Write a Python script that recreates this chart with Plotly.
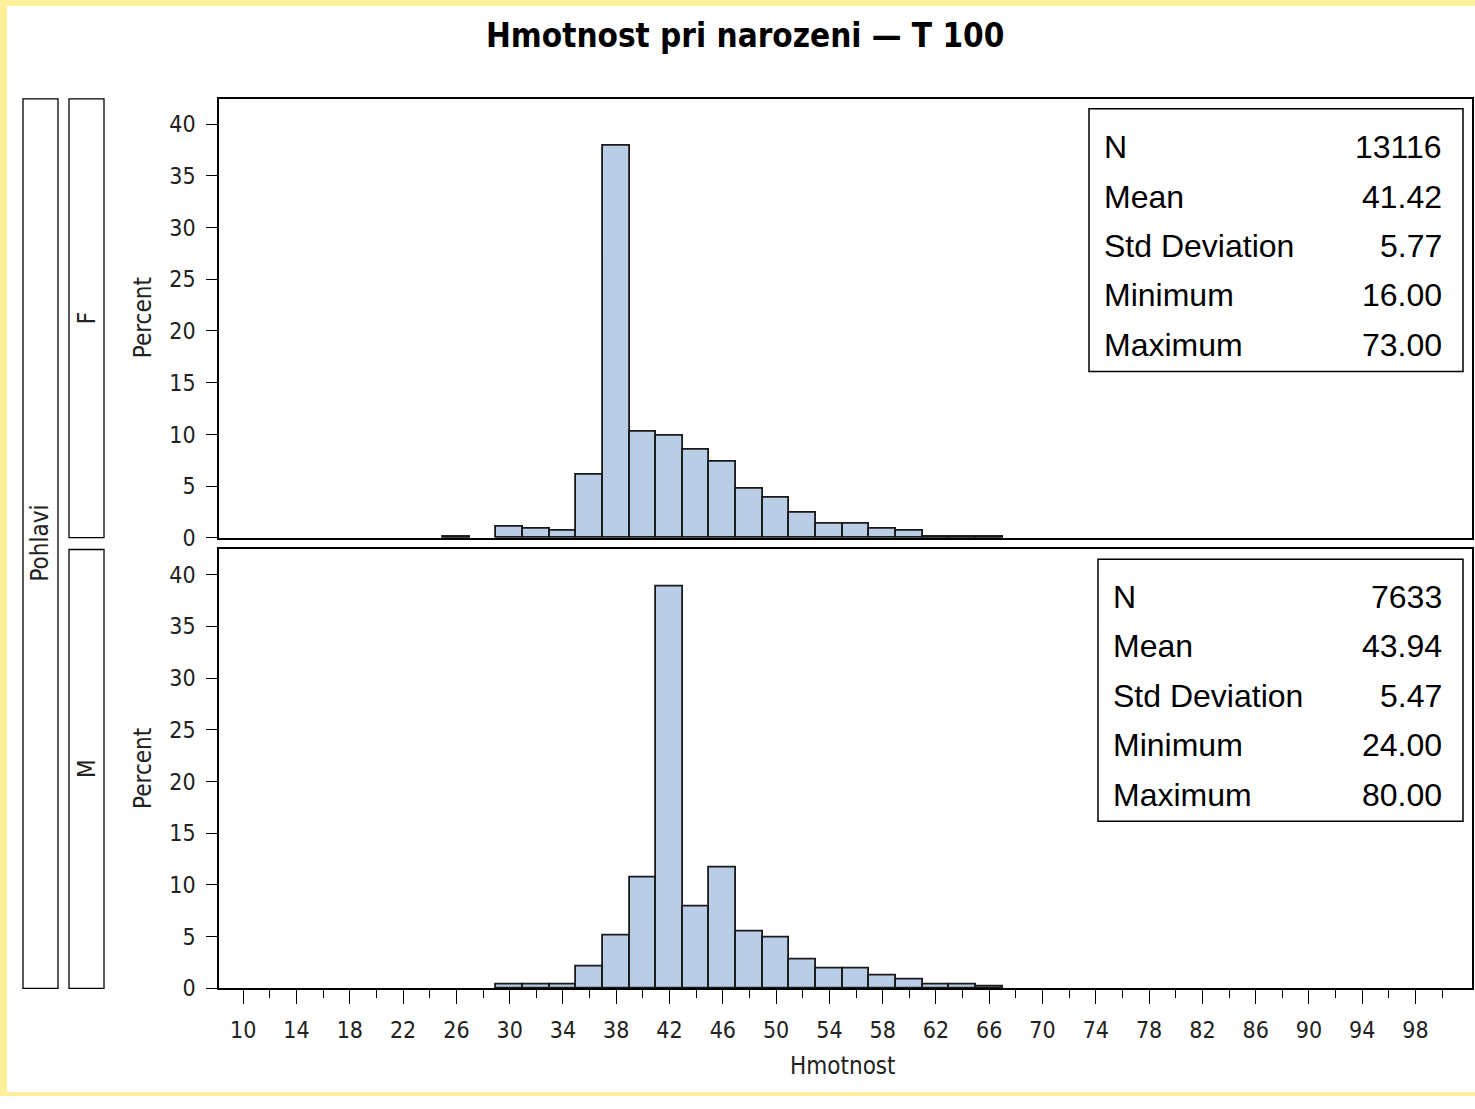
import plotly.graph_objects as go

# ---------------- data ----------------
f_centers = [26, 30, 32, 34, 36, 38, 40, 42, 44, 46, 48, 50, 52, 54, 56, 58, 60, 62, 64, 66]
f_percent = [0.15, 1.05, 0.86, 0.67, 6.14, 37.9, 10.25, 9.87, 8.53, 7.38, 4.74, 3.85, 2.45,
             1.40, 1.40, 0.86, 0.67, 0.10, 0.10, 0.10]

m_centers = [30, 32, 34, 36, 38, 40, 42, 44, 46, 48, 50, 52, 54, 56, 58, 60, 62, 64, 66]
m_percent = [0.32, 0.32, 0.32, 2.1, 5.1, 10.7, 38.9, 7.9, 11.65, 5.48, 4.9, 2.8, 1.9,
             1.9, 1.2, 0.83, 0.32, 0.32, 0.15]

x_ticks = list(range(10, 99, 4))
y_ticks = [0, 5, 10, 15, 20, 25, 30, 35, 40]

stat_labels = ["N", "Mean", "Std Deviation", "Minimum", "Maximum"]
f_stats = ["13116", "41.42", "5.77", "16.00", "73.00"]
m_stats = ["7633", "43.94", "5.47", "24.00", "80.00"]

title = "Hmotnost pri narozeni \u2014 T 100"
x_title = "Hmotnost"
y_title = "Percent"
strip_outer = "Pohlavi"
panel_labels = ["F", "M"]

# ---------------- layout helpers ----------------
W, H = 1475, 1109
def px(x):
    return x / W
def py(y):
    return 1 - y / H

NARROW = "Liberation Sans Narrow, Arial Narrow, DejaVu Sans Condensed, sans-serif"
REG = "Liberation Sans, Arial, sans-serif"
BAR_FILL = "#B9CEE6"

fig = go.Figure()
fig.add_trace(go.Bar(x=f_centers, y=f_percent, width=2, xaxis="x", yaxis="y",
                     marker=dict(color=BAR_FILL, line=dict(color="#1a1a1a", width=1.8)),
                     showlegend=False, hoverinfo="x+y"))
fig.add_trace(go.Bar(x=m_centers, y=m_percent, width=2, xaxis="x2", yaxis="y2",
                     marker=dict(color=BAR_FILL, line=dict(color="#1a1a1a", width=1.8)),
                     showlegend=False, hoverinfo="x+y"))

xr = [8.18, 102.24]
yr = [0, 42.44]
xdom = [px(219), px(1472)]

axis_common = dict(showline=True, linecolor="black", linewidth=1.5, mirror=True,
                   showgrid=False, zeroline=False)

fig.update_layout(
    width=W, height=H,
    margin=dict(l=0, r=0, t=0, b=0),
    paper_bgcolor="white", plot_bgcolor="white",
    bargap=0,
    xaxis=dict(domain=xdom, range=xr, anchor="y", showticklabels=False, ticks="",
               **axis_common),
    yaxis=dict(domain=[py(544.3), py(100)], range=yr, anchor="x",
               tickvals=y_ticks, ticks="outside", ticklen=11, tickwidth=1.3, tickcolor="black",
               tickfont=dict(family=NARROW, size=23, color="#222"),
               ticklabelstandoff=6, **axis_common),
    xaxis2=dict(domain=xdom, range=xr, anchor="y2",
                tickvals=x_ticks, ticks="outside", ticklen=14, tickwidth=1.3, tickcolor="black",
                minor=dict(tickvals=list(range(12, 101, 4)), ticks="outside", ticklen=8,
                           tickwidth=1.3, tickcolor="black"),
                tickfont=dict(family=NARROW, size=23, color="#222"),
                ticklabelstandoff=6, **axis_common),
    yaxis2=dict(domain=[py(1000), py(556)], range=yr, anchor="x2",
                tickvals=y_ticks, ticks="outside", ticklen=11, tickwidth=1.3, tickcolor="black",
                tickfont=dict(family=NARROW, size=23, color="#222"),
                ticklabelstandoff=6, **axis_common),
)

shapes = []
# yellow page border
YEL = "#FFF09C"
shapes.append(dict(type="rect", xref="paper", yref="paper", x0=0, x1=1, y0=py(6), y1=1,
                   fillcolor=YEL, line=dict(width=0), layer="below"))
shapes.append(dict(type="rect", xref="paper", yref="paper", x0=0, x1=px(7), y0=0, y1=1,
                   fillcolor=YEL, line=dict(width=0), layer="below"))
shapes.append(dict(type="rect", xref="paper", yref="paper", x0=0, x1=1, y0=0, y1=py(1105),
                   fillcolor=YEL, line=dict(width=0), layer="below"))

# strip boxes
def box(x0, y0, x1, y1, w=1.3):
    shapes.append(dict(type="rect", xref="paper", yref="paper",
                       x0=px(x0), x1=px(x1), y0=py(y1), y1=py(y0),
                       line=dict(color="black", width=w), fillcolor="rgba(0,0,0,0)"))

box(23, 100, 58, 1000)
box(69, 100, 104, 544)
box(69, 556, 104, 1000)
# stats boxes
box(1089, 110, 1463, 376, 1.5)
box(1098, 566, 1463, 831, 1.5)

fig.update_layout(shapes=shapes)

ann = []
ann.append(dict(text="<b>" + title + "</b>", x=px(745), y=py(36), xref="paper", yref="paper",
                showarrow=False, font=dict(family=NARROW, size=33, color="black"),
                xanchor="center", yanchor="middle"))
ann.append(dict(text=x_title, x=px(843), y=py(1079), xref="paper", yref="paper",
                showarrow=False, font=dict(family=NARROW, size=24, color="#222"),
                xanchor="center", yanchor="middle"))
for yc in (322, 778):
    ann.append(dict(text=y_title, x=px(143), y=py(yc), xref="paper", yref="paper",
                    showarrow=False, textangle=-90,
                    font=dict(family=NARROW, size=24, color="#222"),
                    xanchor="center", yanchor="middle"))
ann.append(dict(text=strip_outer, x=px(40), y=py(550), xref="paper", yref="paper",
                showarrow=False, textangle=-90, font=dict(family=NARROW, size=24, color="#222"),
                xanchor="center", yanchor="middle"))
ann.append(dict(text=panel_labels[0], x=px(87), y=py(322), xref="paper", yref="paper",
                showarrow=False, textangle=-90, font=dict(family=NARROW, size=24, color="#222"),
                xanchor="center", yanchor="middle"))
ann.append(dict(text=panel_labels[1], x=px(87), y=py(778), xref="paper", yref="paper",
                showarrow=False, textangle=-90, font=dict(family=NARROW, size=24, color="#222"),
                xanchor="center", yanchor="middle"))

def stats(lx, top, vals):
    for i, (lab, v) in enumerate(zip(stat_labels, vals)):
        yc = top + 50 * i
        ann.append(dict(text=lab, x=px(lx), y=py(yc), xref="paper", yref="paper",
                        showarrow=False, font=dict(family=REG, size=32, color="black"),
                        xanchor="left", yanchor="middle"))
        ann.append(dict(text=v, x=px(1444), y=py(yc), xref="paper", yref="paper",
                        showarrow=False, font=dict(family=REG, size=32, color="black"),
                        xanchor="right", yanchor="middle"))

stats(1102, 149, f_stats)
stats(1111, 604, m_stats)

fig.update_layout(annotations=ann)
fig.write_html("out.html")
